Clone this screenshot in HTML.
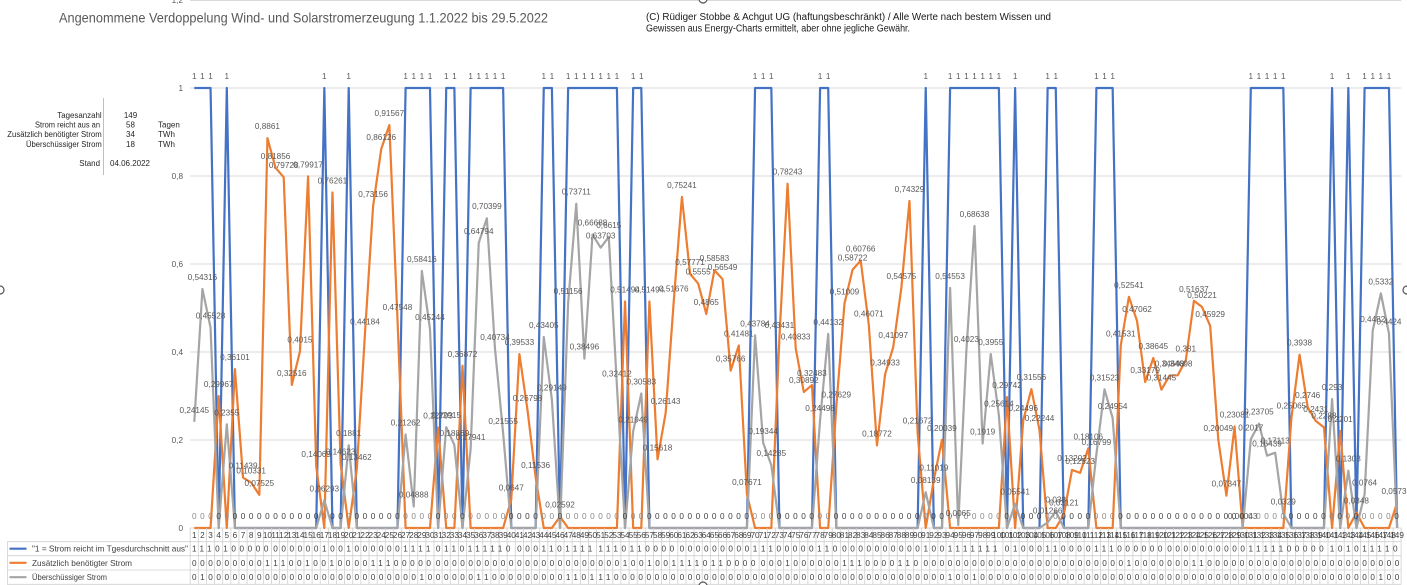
<!DOCTYPE html>
<html><head><meta charset="utf-8"><style>
html,body{margin:0;padding:0;background:#fff;width:1407px;height:585px;overflow:hidden}
svg{display:block}
text{font-family:"Liberation Sans",Arial,sans-serif}
</style></head><body>
<svg width="1407" height="585" viewBox="0 0 1407 585" xmlns="http://www.w3.org/2000/svg">
<rect width="1407" height="585" fill="#fff"/>
<g stroke="#d9d9d9" stroke-width="1">
<line x1="190.2" y1="0.5" x2="1401.3" y2="0.5"/>
<line x1="190.2" y1="88" x2="1401.3" y2="88"/>
<line x1="190.2" y1="176" x2="1401.3" y2="176"/>
<line x1="190.2" y1="264" x2="1401.3" y2="264"/>
<line x1="190.2" y1="352" x2="1401.3" y2="352"/>
<line x1="190.2" y1="440" x2="1401.3" y2="440"/>
<line x1="190.2" y1="528" x2="1401.3" y2="528"/>
</g>
<g font-size="8.2" fill="#595959" text-anchor="end">
<text x="183" y="3">1,2</text>
<text x="183" y="91">1</text>
<text x="183" y="179">0,8</text>
<text x="183" y="267">0,6</text>
<text x="183" y="355">0,4</text>
<text x="183" y="443">0,2</text>
<text x="183" y="531">0</text>
</g>
<text x="59" y="22.5" font-size="14" fill="#595959" textLength="489" lengthAdjust="spacingAndGlyphs">Angenommene Verdoppelung Wind- und Solarstromerzeugung 1.1.2022 bis 29.5.2022</text>
<text x="646" y="20" font-size="10" fill="#1a1a1a" textLength="405" lengthAdjust="spacingAndGlyphs">(C) Rüdiger Stobbe &amp; Achgut UG (haftungsbeschränkt) / Alle Werte nach bestem Wissen und</text>
<text x="646" y="31.7" font-size="10" fill="#1a1a1a" textLength="264" lengthAdjust="spacingAndGlyphs">Gewissen aus Energy-Charts ermittelt, aber ohne jegliche Gewähr.</text>
<g font-size="8" fill="#262626">
<text x="57.3" y="118" textLength="44.3" lengthAdjust="spacingAndGlyphs">Tagesanzahl</text>
<text x="35" y="127.5" textLength="65" lengthAdjust="spacingAndGlyphs">Strom reicht aus an</text>
<text x="7.3" y="137" textLength="94.4" lengthAdjust="spacingAndGlyphs">Zusätzlich benötigter Strom</text>
<text x="26" y="147" textLength="75.7" lengthAdjust="spacingAndGlyphs">Überschüssiger Strom</text>
<text x="79.3" y="166" textLength="20.7" lengthAdjust="spacingAndGlyphs">Stand</text>
<g text-anchor="middle">
<text x="130.5" y="118">149</text>
<text x="130.5" y="127.5">58</text>
<text x="130.5" y="137">34</text>
<text x="130.5" y="147">18</text>
</g>
<text x="158" y="127.5">Tagen</text>
<text x="158" y="137">TWh</text>
<text x="158" y="147">TWh</text>
<text x="110" y="166" textLength="40" lengthAdjust="spacingAndGlyphs">04.06.2022</text>
</g>
<line x1="103.5" y1="98" x2="103.5" y2="175" stroke="#bfbfbf" stroke-width="1"/>

<g transform="matrix(8.127 0 0 -440 186.173 528)" fill="none" stroke-width="2.2" stroke-linejoin="round">
<polyline vector-effect="non-scaling-stroke" stroke="#4472C4" points="1,1 3,1 4,0 5,1 6,0 16,0 17,1 18,0 19,0 20,1 21,0 26,0 27,1 30,1 31,0 32,1 33,1 34,0 35,1 39,1 40,0 43,0 44,1 45,1 46,0 47,1 53,1 54,0 55,1 56,1 57,0 69,0 70,1 72,1 73,0 77,0 78,1 79,1 80,0 90,0 91,1 92,0 93,0 94,1 100,1 101,0 102,1 103,0 105,0 106,1 107,1 108,0 111,0 112,1 114,1 115,0 130,0 131,1 135,1 136,0 140,0 141,1 142,0 143,1 144,0 145,1 148,1 149,0"/>
<polyline vector-effect="non-scaling-stroke" stroke="#ED7D31" points="1,0 3,0 4,0.29967 5,0 6,0.36101 7,0.11439 8,0.10331 9,0.07525 10,0.8861 11,0.81856 12,0.79728 13,0.32516 14,0.4015 15,0.79917 16,0.14069 17,0 18,0.76261 19,0.14623 20,0 21,0.13462 22,0.44184 23,0.73156 24,0.86126 25,0.91567 26,0.47548 27,0 30,0 31,0.22793 32,0 33,0 34,0.36872 35,0 39,0 40,0.0647 41,0.39533 42,0.26798 43,0.11536 44,0 45,0 46,0.02592 47,0 53,0 54,0.51494 55,0 56,0 57,0.51494 58,0.15618 59,0.26143 60,0.51676 61,0.75241 62,0.57771 63,0.5555 64,0.4865 65,0.58583 66,0.56549 67,0.35766 68,0.41481 69,0.07671 70,0 72,0 73,0.43431 74,0.78243 75,0.40833 76,0.30892 77,0.32483 78,0 79,0 80,0.27629 81,0.51009 82,0.58722 83,0.60766 84,0.46071 85,0.18772 86,0.34933 87,0.41097 88,0.54575 89,0.74329 90,0.21672 91,0 92,0.11019 93,0.20039 94,0 100,0 101,0.29742 102,0 103,0.24496 104,0.31556 105,0.22244 106,0 107,0 108,0.03121 109,0.13202 110,0.12523 111,0.18106 112,0 114,0 115,0.41531 116,0.52541 117,0.47062 118,0.33179 119,0.38645 120,0.31445 121,0.34648 122,0.34698 123,0.381 124,0.51637 125,0.50221 126,0.45929 127,0.20049 128,0.07347 129,0.23081 130,0.00043 131,0 135,0 136,0.25065 137,0.3938 138,0.2746 139,0.2431 140,0.2288 141,0 142,0.2201 143,0 144,0.0348 145,0 148,0 149,0.0573"/>
<polyline vector-effect="non-scaling-stroke" stroke="#A5A5A5" points="1,0.24145 2,0.54316 3,0.45528 4,0 5,0.2355 6,0 16,0 17,0.06293 18,0 19,0 20,0.1881 21,0 26,0 27,0.21262 28,0.04888 29,0.58416 30,0.45244 31,0 32,0.22915 33,0.18869 34,0 35,0.17941 36,0.64794 37,0.70399 38,0.40734 39,0.21555 40,0 43,0 44,0.43405 45,0.29149 46,0 47,0.51156 48,0.73711 49,0.38496 50,0.66688 51,0.63703 52,0.6615 53,0.32412 54,0 55,0.21949 56,0.30583 57,0 69,0 70,0.43784 71,0.19344 72,0.14285 73,0 77,0 78,0.24498 79,0.44132 80,0 90,0 91,0.08139 92,0 93,0 94,0.54553 95,0.0065 96,0.4023 97,0.68638 98,0.1919 99,0.3955 100,0.25614 101,0 102,0.05541 103,0 105,0 106,0.01266 107,0.038 108,0 111,0 112,0.16799 113,0.31523 114,0.24954 115,0 130,0 131,0.2017 132,0.23705 133,0.16439 134,0.17113 135,0.0329 136,0 140,0 141,0.293 142,0 143,0.1303 144,0 145,0.0764 146,0.4482 147,0.5332 148,0.4424 149,0"/>
</g>

<text font-size="8.2" fill="#595959" text-anchor="middle" y="79" x="194.3 202.43 210.55 226.81 324.33 348.71 405.6 413.73 421.86 429.98 446.24 454.36 470.62 478.75 486.87 495 503.13 543.76 551.89 568.14 576.27 584.4 592.52 600.65 608.78 616.9 633.16 641.29 755.06 763.19 771.32 820.08 828.21 925.73 950.11 958.24 966.37 974.49 982.62 990.75 998.87 1015.13 1047.64 1055.76 1096.4 1104.52 1112.65 1250.81 1258.94 1267.06 1275.19 1283.32 1332.08 1348.33 1364.59 1372.72 1380.84 1388.97">1111111111111111111111111111111111111111111111111111111111</text>

<text font-size="8.2" fill="#404040" x="192.02" y="519" style="letter-spacing:3.568px"><tspan fill="#8a8a8a">000</tspan>0<tspan fill="#8a8a8a">0</tspan>00000000000<tspan fill="#8a8a8a">0</tspan>00<tspan fill="#8a8a8a">0</tspan>000000<tspan fill="#8a8a8a">0000</tspan>0<tspan fill="#8a8a8a">00</tspan>0<tspan fill="#8a8a8a">00000</tspan>0000<tspan fill="#8a8a8a">00</tspan>0<tspan fill="#8a8a8a">0000000</tspan>0<tspan fill="#8a8a8a">00</tspan>0000000000000<tspan fill="#8a8a8a">000</tspan>00000<tspan fill="#8a8a8a">00</tspan>00000000000<tspan fill="#8a8a8a">0</tspan>00<tspan fill="#8a8a8a">0000000</tspan>0<tspan fill="#8a8a8a">0</tspan>000<tspan fill="#8a8a8a">00</tspan>0000<tspan fill="#8a8a8a">000</tspan>0000000000000000<tspan fill="#8a8a8a">00000</tspan>00000<tspan fill="#8a8a8a">0</tspan>0<tspan fill="#8a8a8a">0</tspan>0<tspan fill="#8a8a8a">0000</tspan>0</text>

<g font-size="8.2" fill="#595959" text-anchor="middle">
<text x="194.3" y="412.8">0,24145</text>
<text x="202.43" y="280">0,54316</text>
<text x="210.55" y="318.7">0,45528</text>
<text x="226.81" y="415.4">0,2355</text>
<text x="324.33" y="491.3">0,06293</text>
<text x="348.71" y="436.2">0,1881</text>
<text x="405.6" y="425.4">0,21262</text>
<text x="413.73" y="497.5">0,04888</text>
<text x="421.86" y="262">0,58416</text>
<text x="429.98" y="319.9">0,45244</text>
<text x="446.24" y="418.2">0,22915</text>
<text x="454.36" y="436">0,18869</text>
<text x="470.62" y="440.1">0,17941</text>
<text x="478.75" y="233.9">0,64794</text>
<text x="486.87" y="209.2">0,70399</text>
<text x="495" y="339.8">0,40734</text>
<text x="503.13" y="424.2">0,21555</text>
<text x="543.76" y="328">0,43405</text>
<text x="551.89" y="390.7">0,29149</text>
<text x="568.14" y="293.9">0,51156</text>
<text x="576.27" y="194.7">0,73711</text>
<text x="584.4" y="349.6">0,38496</text>
<text x="592.52" y="225.6">0,66688</text>
<text x="600.65" y="238.7">0,63703</text>
<text x="608.78" y="227.9">0,6615</text>
<text x="616.9" y="376.4">0,32412</text>
<text x="633.16" y="422.4">0,21949</text>
<text x="641.29" y="384.4">0,30583</text>
<text x="755.06" y="326.4">0,43784</text>
<text x="763.19" y="433.9">0,19344</text>
<text x="771.32" y="456.1">0,14285</text>
<text x="820.08" y="411.2">0,24498</text>
<text x="828.21" y="324.8">0,44132</text>
<text x="925.73" y="483.2">0,08139</text>
<text x="950.11" y="279">0,54553</text>
<text x="958.24" y="516.1">0,0065</text>
<text x="966.37" y="342">0,4023</text>
<text x="974.49" y="217">0,68638</text>
<text x="982.62" y="434.6">0,1919</text>
<text x="990.75" y="345">0,3955</text>
<text x="998.87" y="406.3">0,25614</text>
<text x="1015.13" y="494.6">0,05541</text>
<text x="1047.64" y="513.4">0,01266</text>
<text x="1055.76" y="502.3">0,038</text>
<text x="1096.4" y="445.1">0,16799</text>
<text x="1104.52" y="380.3">0,31523</text>
<text x="1112.65" y="409.2">0,24954</text>
<text x="1250.81" y="430.3">0,2017</text>
<text x="1258.94" y="414.7">0,23705</text>
<text x="1267.06" y="446.7">0,16439</text>
<text x="1275.19" y="443.7">0,17113</text>
<text x="1283.32" y="504.5">0,0329</text>
<text x="1332.08" y="390.1">0,293</text>
<text x="1348.33" y="461.7">0,1303</text>
<text x="1364.59" y="485.4">0,0764</text>
<text x="1372.72" y="321.8">0,4482</text>
<text x="1380.84" y="284.4">0,5332</text>
<text x="1388.97" y="324.3">0,4424</text>
<text x="218.68" y="387.1">0,29967</text>
<text x="234.94" y="360.2">0,36101</text>
<text x="243.06" y="468.7">0,11439</text>
<text x="251.19" y="473.5">0,10331</text>
<text x="259.32" y="485.9">0,07525</text>
<text x="267.44" y="129.1">0,8861</text>
<text x="275.57" y="158.8">0,81856</text>
<text x="283.7" y="168.2">0,79728</text>
<text x="291.82" y="375.9">0,32516</text>
<text x="299.95" y="342.3">0,4015</text>
<text x="308.08" y="167.4">0,79917</text>
<text x="316.21" y="457.1">0,14069</text>
<text x="332.46" y="183.5">0,76261</text>
<text x="340.59" y="454.7">0,14623</text>
<text x="356.84" y="459.8">0,13462</text>
<text x="364.97" y="324.6">0,44184</text>
<text x="373.09" y="197.1">0,73156</text>
<text x="381.22" y="140">0,86126</text>
<text x="389.35" y="116.1">0,91567</text>
<text x="397.48" y="309.8">0,47548</text>
<text x="438.11" y="418.7">0,22793</text>
<text x="462.49" y="356.8">0,36872</text>
<text x="511.25" y="490.5">0,0647</text>
<text x="519.38" y="345.1">0,39533</text>
<text x="527.51" y="401.1">0,26798</text>
<text x="535.63" y="468.2">0,11536</text>
<text x="560.02" y="507.6">0,02592</text>
<text x="625.03" y="292.4">0,51494</text>
<text x="649.41" y="292.4">0,51494</text>
<text x="657.54" y="450.3">0,15618</text>
<text x="665.67" y="404">0,26143</text>
<text x="673.79" y="291.6">0,51676</text>
<text x="681.92" y="187.9">0,75241</text>
<text x="690.05" y="264.8">0,57771</text>
<text x="698.17" y="274.6">0,5555</text>
<text x="706.3" y="304.9">0,4865</text>
<text x="714.43" y="261.2">0,58583</text>
<text x="722.56" y="270.2">0,56549</text>
<text x="730.68" y="361.6">0,35766</text>
<text x="738.81" y="336.5">0,41481</text>
<text x="746.94" y="485.2">0,07671</text>
<text x="779.44" y="327.9">0,43431</text>
<text x="787.57" y="174.7">0,78243</text>
<text x="795.7" y="339.3">0,40833</text>
<text x="803.83" y="383.1">0,30892</text>
<text x="811.95" y="376.1">0,32483</text>
<text x="836.33" y="397.4">0,27629</text>
<text x="844.46" y="294.6">0,51009</text>
<text x="852.59" y="260.6">0,58722</text>
<text x="860.71" y="251.6">0,60766</text>
<text x="868.84" y="316.3">0,46071</text>
<text x="876.97" y="436.4">0,18772</text>
<text x="885.1" y="365.3">0,34933</text>
<text x="893.22" y="338.2">0,41097</text>
<text x="901.35" y="278.9">0,54575</text>
<text x="909.48" y="192">0,74329</text>
<text x="917.6" y="423.6">0,21672</text>
<text x="933.86" y="470.5">0,11019</text>
<text x="941.98" y="430.8">0,20039</text>
<text x="1007" y="388.1">0,29742</text>
<text x="1023.25" y="411.2">0,24496</text>
<text x="1031.38" y="380.2">0,31556</text>
<text x="1039.51" y="421.1">0,22244</text>
<text x="1063.89" y="505.3">0,03121</text>
<text x="1072.02" y="460.9">0,13202</text>
<text x="1080.14" y="463.9">0,12523</text>
<text x="1088.27" y="439.3">0,18106</text>
<text x="1120.78" y="336.3">0,41531</text>
<text x="1128.91" y="287.8">0,52541</text>
<text x="1137.03" y="311.9">0,47062</text>
<text x="1145.16" y="373">0,33179</text>
<text x="1153.29" y="349">0,38645</text>
<text x="1161.41" y="380.6">0,31445</text>
<text x="1169.54" y="366.5">0,34648</text>
<text x="1177.67" y="366.3">0,34698</text>
<text x="1185.79" y="351.4">0,381</text>
<text x="1193.92" y="291.8">0,51637</text>
<text x="1202.05" y="298">0,50221</text>
<text x="1210.18" y="316.9">0,45929</text>
<text x="1218.3" y="430.8">0,20049</text>
<text x="1226.43" y="486.7">0,07347</text>
<text x="1234.56" y="417.4">0,23081</text>
<text x="1242.68" y="518.8">0,00043</text>
<text x="1291.45" y="408.7">0,25065</text>
<text x="1299.57" y="345.7">0,3938</text>
<text x="1307.7" y="398.2">0,2746</text>
<text x="1315.83" y="412">0,2431</text>
<text x="1323.95" y="418.3">0,2288</text>
<text x="1340.21" y="422.2">0,2201</text>
<text x="1356.46" y="503.7">0,0348</text>
<text x="1394" y="493.8">0,0573</text>
</g>

<line x1="189.8" y1="556.15" x2="1402" y2="556.15" stroke="#d0d0d0" stroke-width="56.3" stroke-dasharray="0.8 7.327"/>
<g stroke="#d0d0d0" stroke-width="0.8">
<line x1="7" y1="541.7" x2="1401.3" y2="541.7"/>
<line x1="7" y1="555.7" x2="1401.3" y2="555.7"/>
<line x1="7" y1="570" x2="1401.3" y2="570"/>
<line x1="7" y1="584.3" x2="1401.3" y2="584.3"/>
<line x1="7.4" y1="541.7" x2="7.4" y2="584.3"/>
</g>
<line x1="9.5" y1="548.7" x2="26.5" y2="548.7" stroke="#4472C4" stroke-width="2.2"/>
<line x1="9.5" y1="562.8" x2="26.5" y2="562.8" stroke="#ED7D31" stroke-width="2.2"/>
<line x1="9.5" y1="577.2" x2="26.5" y2="577.2" stroke="#A5A5A5" stroke-width="2.2"/>
<g font-size="8.2" fill="#404040">
<text x="32" y="551.7" textLength="156" lengthAdjust="spacingAndGlyphs">"1 = Strom reicht im Tgesdurchschnitt aus"</text>
<text x="32" y="565.8" textLength="100" lengthAdjust="spacingAndGlyphs">Zusätzlich benötigter Strom</text>
<text x="32" y="580.2" textLength="75" lengthAdjust="spacingAndGlyphs">Überschüssiger Strom</text>
</g>
<g font-size="8.2" fill="#404040" style="letter-spacing:3.568px">
<text y="551.7"><tspan x="192.02">1110100000</tspan><tspan x="273.29">0000001001</tspan><tspan x="354.56">0000001111</tspan><tspan x="435.83">0110111110</tspan><tspan x="517.1">0001101111</tspan><tspan x="598.37">1110110000</tspan><tspan x="679.64">0000000001</tspan><tspan x="760.91">1100000110</tspan><tspan x="842.18">0000000000</tspan><tspan x="923.45">1001111111</tspan><tspan x="1004.72">0100011000</tspan><tspan x="1085.99">0111000000</tspan><tspan x="1167.26">0000000000</tspan><tspan x="1248.53">1111100000</tspan><tspan x="1329.8">101011110</tspan></text>
<text y="565.8"><tspan x="192.02">0000000001</tspan><tspan x="273.29">1100100100</tspan><tspan x="354.56">0011100000</tspan><tspan x="435.83">0000000000</tspan><tspan x="517.1">0000000000</tspan><tspan x="598.37">0001001001</tspan><tspan x="679.64">1110110000</tspan><tspan x="760.91">0001000000</tspan><tspan x="842.18">1110000110</tspan><tspan x="923.45">0000000000</tspan><tspan x="1004.72">0000000000</tspan><tspan x="1085.99">0000010000</tspan><tspan x="1167.26">0001100000</tspan><tspan x="1248.53">0000000000</tspan><tspan x="1329.8">000000000</tspan></text>
<text y="580.2"><tspan x="192.02">0100000000</tspan><tspan x="273.29">0000000000</tspan><tspan x="354.56">0000000010</tspan><tspan x="435.83">0000011000</tspan><tspan x="517.1">0000001101</tspan><tspan x="598.37">1100000000</tspan><tspan x="679.64">0000000000</tspan><tspan x="760.91">0000000000</tspan><tspan x="842.18">0000000000</tspan><tspan x="923.45">0001001000</tspan><tspan x="1004.72">0000000000</tspan><tspan x="1085.99">0000000000</tspan><tspan x="1167.26">0000000000</tspan><tspan x="1248.53">0000000000</tspan><tspan x="1329.8">000000100</tspan></text>
</g>
<text font-size="8.2" fill="#404040" text-anchor="middle" y="537.8"><tspan x="194.3">1</tspan><tspan x="202.43">2</tspan><tspan x="210.55">3</tspan><tspan x="218.68">4</tspan><tspan x="226.81">5</tspan><tspan x="234.94">6</tspan><tspan x="243.06">7</tspan><tspan x="251.19">8</tspan><tspan x="259.32">9</tspan><tspan x="267.44">10</tspan><tspan x="275.57">11</tspan><tspan x="283.7">12</tspan><tspan x="291.82">13</tspan><tspan x="299.95">14</tspan><tspan x="308.08">15</tspan><tspan x="316.21">16</tspan><tspan x="324.33">17</tspan><tspan x="332.46">18</tspan><tspan x="340.59">19</tspan><tspan x="348.71">20</tspan><tspan x="356.84">21</tspan><tspan x="364.97">22</tspan><tspan x="373.09">23</tspan><tspan x="381.22">24</tspan><tspan x="389.35">25</tspan><tspan x="397.48">26</tspan><tspan x="405.6">27</tspan><tspan x="413.73">28</tspan><tspan x="421.86">29</tspan><tspan x="429.98">30</tspan><tspan x="438.11">31</tspan><tspan x="446.24">32</tspan><tspan x="454.36">33</tspan><tspan x="462.49">34</tspan><tspan x="470.62">35</tspan><tspan x="478.75">36</tspan><tspan x="486.87">37</tspan><tspan x="495">38</tspan><tspan x="503.13">39</tspan><tspan x="511.25">40</tspan><tspan x="519.38">41</tspan><tspan x="527.51">42</tspan><tspan x="535.63">43</tspan><tspan x="543.76">44</tspan><tspan x="551.89">45</tspan><tspan x="560.02">46</tspan><tspan x="568.14">47</tspan><tspan x="576.27">48</tspan><tspan x="584.4">49</tspan><tspan x="592.52">50</tspan><tspan x="600.65">51</tspan><tspan x="608.78">52</tspan><tspan x="616.9">53</tspan><tspan x="625.03">54</tspan><tspan x="633.16">55</tspan><tspan x="641.29">56</tspan><tspan x="649.41">57</tspan><tspan x="657.54">58</tspan><tspan x="665.67">59</tspan><tspan x="673.79">60</tspan><tspan x="681.92">61</tspan><tspan x="690.05">62</tspan><tspan x="698.17">63</tspan><tspan x="706.3">64</tspan><tspan x="714.43">65</tspan><tspan x="722.56">66</tspan><tspan x="730.68">67</tspan><tspan x="738.81">68</tspan><tspan x="746.94">69</tspan><tspan x="755.06">70</tspan><tspan x="763.19">71</tspan><tspan x="771.32">72</tspan><tspan x="779.44">73</tspan><tspan x="787.57">74</tspan><tspan x="795.7">75</tspan><tspan x="803.83">76</tspan><tspan x="811.95">77</tspan><tspan x="820.08">78</tspan><tspan x="828.21">79</tspan><tspan x="836.33">80</tspan><tspan x="844.46">81</tspan><tspan x="852.59">82</tspan><tspan x="860.71">83</tspan><tspan x="868.84">84</tspan><tspan x="876.97">85</tspan><tspan x="885.1">86</tspan><tspan x="893.22">87</tspan><tspan x="901.35">88</tspan><tspan x="909.48">89</tspan><tspan x="917.6">90</tspan><tspan x="925.73">91</tspan><tspan x="933.86">92</tspan><tspan x="941.98">93</tspan><tspan x="950.11">94</tspan><tspan x="958.24">95</tspan><tspan x="966.37">96</tspan><tspan x="974.49">97</tspan><tspan x="982.62">98</tspan><tspan x="990.75">99</tspan><tspan x="998.87">100</tspan><tspan x="1007">101</tspan><tspan x="1015.13">102</tspan><tspan x="1023.25">103</tspan><tspan x="1031.38">104</tspan><tspan x="1039.51">105</tspan><tspan x="1047.64">106</tspan><tspan x="1055.76">107</tspan><tspan x="1063.89">108</tspan><tspan x="1072.02">109</tspan><tspan x="1080.14">110</tspan><tspan x="1088.27">111</tspan><tspan x="1096.4">112</tspan><tspan x="1104.52">113</tspan><tspan x="1112.65">114</tspan><tspan x="1120.78">115</tspan><tspan x="1128.91">116</tspan><tspan x="1137.03">117</tspan><tspan x="1145.16">118</tspan><tspan x="1153.29">119</tspan><tspan x="1161.41">120</tspan><tspan x="1169.54">121</tspan><tspan x="1177.67">122</tspan><tspan x="1185.79">123</tspan><tspan x="1193.92">124</tspan><tspan x="1202.05">125</tspan><tspan x="1210.18">126</tspan><tspan x="1218.3">127</tspan><tspan x="1226.43">128</tspan><tspan x="1234.56">129</tspan><tspan x="1242.68">130</tspan><tspan x="1250.81">131</tspan><tspan x="1258.94">132</tspan><tspan x="1267.06">133</tspan><tspan x="1275.19">134</tspan><tspan x="1283.32">135</tspan><tspan x="1291.45">136</tspan><tspan x="1299.57">137</tspan><tspan x="1307.7">138</tspan><tspan x="1315.83">139</tspan><tspan x="1323.95">140</tspan><tspan x="1332.08">141</tspan><tspan x="1340.21">142</tspan><tspan x="1348.33">143</tspan><tspan x="1356.46">144</tspan><tspan x="1364.59">145</tspan><tspan x="1372.72">146</tspan><tspan x="1380.84">147</tspan><tspan x="1388.97">148</tspan><tspan x="1397.1">149</tspan></text>

<g fill="#fff" stroke="#555" stroke-width="1.2">
<circle cx="1407" cy="290" r="4"/>
<circle cx="0" cy="290" r="4"/>
<circle cx="703" cy="586" r="4"/>
<circle cx="703" cy="-1" r="4"/>
</g>
</svg>
</body></html>
